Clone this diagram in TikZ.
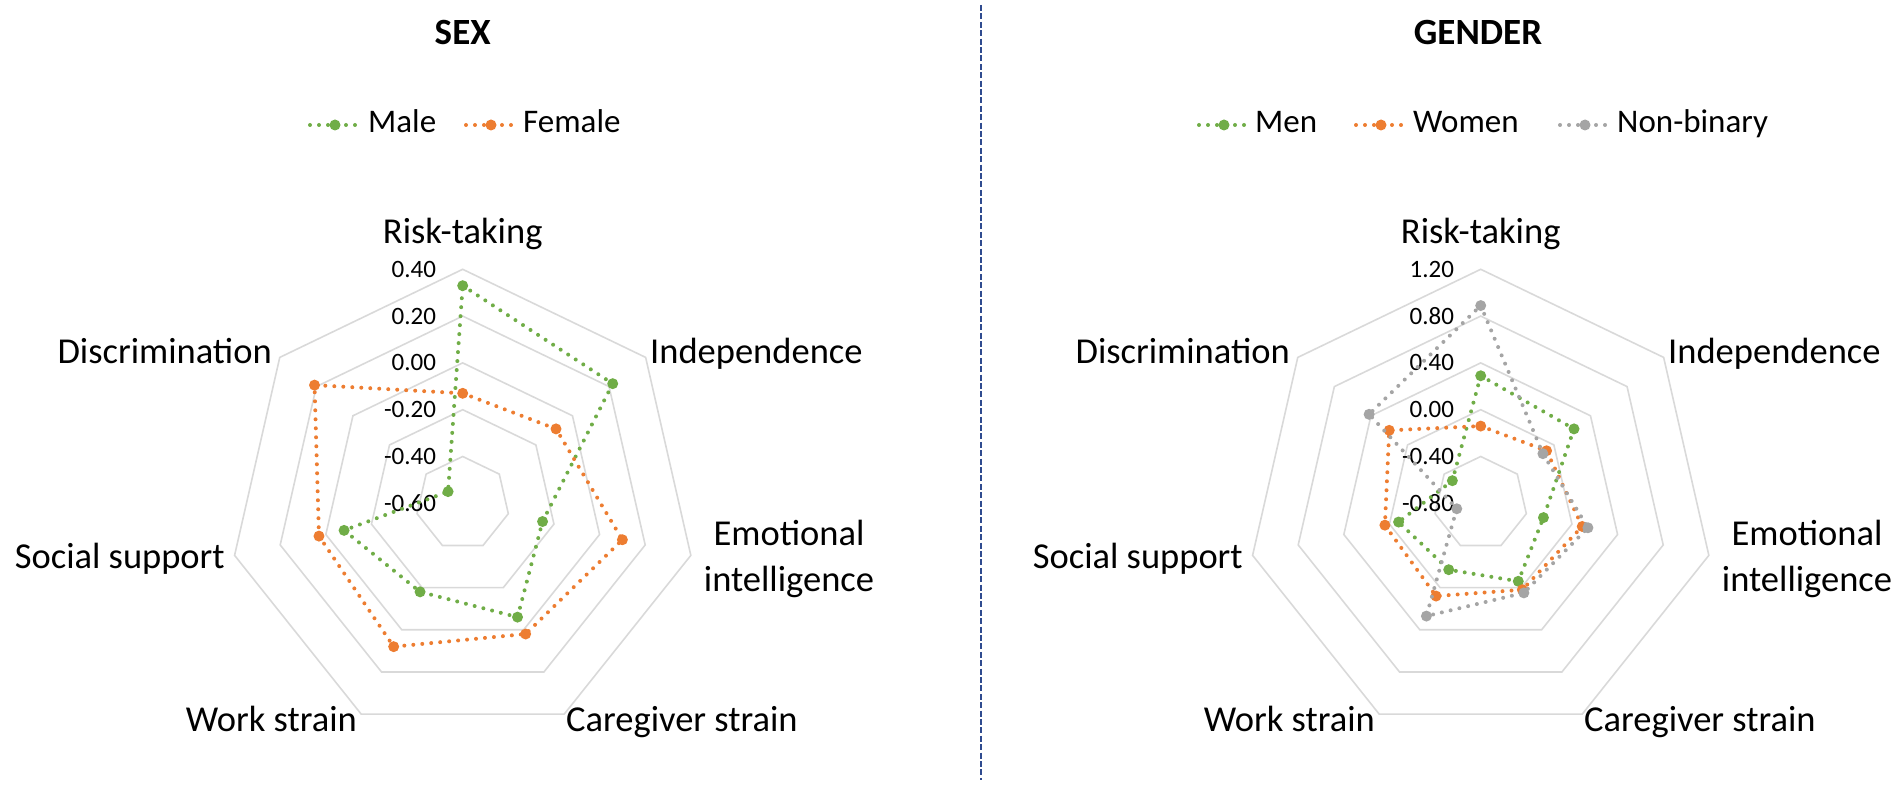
\documentclass[tikz,border=0pt]{standalone}
\usepackage{fontspec}
\setmainfont{Carlito}
\definecolor{mgreen}{HTML}{70AD47}
\definecolor{forange}{HTML}{ED7D31}
\definecolor{nbgray}{HTML}{A5A5A5}
\definecolor{gridgray}{HTML}{D9D9D9}
\definecolor{sepblue}{HTML}{2F4B8F}
\begin{document}
\begin{tikzpicture}
[x=1pt,y=1pt,
 ring/.style={draw=gridgray,line width=1.6pt},
 ser/.style={line width=4pt,dash pattern=on 0pt off 9pt,line cap=round,line join=round},
 dot/.style={circle,fill=#1,inner sep=0pt,minimum size=11pt},
 cat/.style={font=\fontsize{36.5}{46.7}\selectfont,inner sep=0pt},
 tk/.style={font=\fontsize{25}{30}\selectfont,inner sep=0pt,anchor=east},
 lg/.style={font=\fontsize{33}{40}\selectfont,inner sep=0pt,anchor=base west},
 ttl/.style={font=\fontsize{37}{40}\selectfont\bfseries,inner sep=0pt,anchor=base}]
\useasboundingbox (0,0) rectangle (1902,787);

% centres of the two radar charts
\coordinate (cL) at (462.7,283.7);
\coordinate (cR) at (1480.7,283.7);

% grid rings
\foreach \c in {cL,cR}
  \foreach \k in {1,...,5}
    \draw[ring] ([shift={(90:\k*46.8)}]\c)
      \foreach \j in {1,...,6} { -- ([shift={({90-\j*360/7}:\k*46.8)}]\c) } -- cycle;

% axis values
\foreach \t [count=\k from 0] in {-0.60,-0.40,-0.20,0.00,0.20,0.40}
  \node[tk] (tickL\k) at ([shift={(-26.5,\k*46.8)}]cL) {\t};
\foreach \t [count=\k from 0] in {-0.80,-0.40,0.00,0.40,0.80,1.20}
  \node[tk] (tickR\k) at ([shift={(-26.5,\k*46.8)}]cR) {\t};

% titles
\node[ttl] (sexT) at (462.7,742) {SEX};
\node[ttl] (genT) at (1478,742) {GENDER};

% category labels, left
\node[cat,anchor=base] (riskL) at (462.7,543.7) {Risk-taking};
\node[cat,anchor=base west] (indL) at (650,423.7) {Independence};
\node[cat,align=center] (emoL) at (789,228) {Emotional\\intelligence};
\node[cat,anchor=base west] (careL) at (566,55.3) {Caregiver strain};
\node[cat,anchor=base east] (workL) at (357,55.3) {Work strain};
\node[cat,anchor=base east] (socL) at (225,218.7) {Social support};
\node[cat,anchor=base east] (discL) at (272,423.7) {Discrimination};

% category labels, right
\node[cat,anchor=base] (riskR) at (1480.7,543.7) {Risk-taking};
\node[cat,anchor=base west] (indR) at (1668,423.7) {Independence};
\node[cat,align=center] (emoR) at (1807,228) {Emotional\\intelligence};
\node[cat,anchor=base west] (careR) at (1584,55.3) {Caregiver strain};
\node[cat,anchor=base east] (workR) at (1375,55.3) {Work strain};
\node[cat,anchor=base east] (socR) at (1243,218.7) {Social support};
\node[cat,anchor=base east] (discR) at (1290,423.7) {Discrimination};

% legends
\coordinate (maleKey) at (335,662);
\coordinate (femKey) at (491,662);
\coordinate (menKey) at (1224,662);
\coordinate (womKey) at (1381,662);
\coordinate (nbKey) at (1585,662);
\draw[ser,mgreen] ([xshift=-25]maleKey) -- ([xshift=25]maleKey);
\draw[ser,forange] ([xshift=-25]femKey) -- ([xshift=25]femKey);
\draw[ser,mgreen] ([xshift=-25]menKey) -- ([xshift=25]menKey);
\draw[ser,forange] ([xshift=-25]womKey) -- ([xshift=25]womKey);
\draw[ser,nbgray] ([xshift=-25]nbKey) -- ([xshift=25]nbKey);
\node[dot=mgreen] (maleKeyDot) at (maleKey) {};
\node[dot=forange] (femKeyDot) at (femKey) {};
\node[dot=mgreen] (menKeyDot) at (menKey) {};
\node[dot=forange] (womKeyDot) at (womKey) {};
\node[dot=nbgray] (nbKeyDot) at (nbKey) {};
\node[lg] (maleTxt) at (368,654) {Male};
\node[lg] (femTxt) at (523,654) {Female};
\node[lg] (menTxt) at (1255,654) {Men};
\node[lg] (womTxt) at (1413,654) {Women};
\node[lg] (nbTxt) at (1617,654) {Non-binary};

% separator
\draw[sepblue,line width=2pt,dash pattern=on 6pt off 2.4pt] (981,782) -- (981,7);

% left chart: -0.60 .. 0.40
\foreach \v [count=\i] in {0.33,0.22,-0.25,-0.06,-0.18,-0.08,-0.52}
  \coordinate (male\i) at ([shift={({90-(\i-1)*360/7}:{(\v+0.6)*234})}]cL);
\foreach \v [count=\i] in {-0.13,-0.09,0.10,0.02,0.08,0.03,0.21}
  \coordinate (fem\i) at ([shift={({90-(\i-1)*360/7}:{(\v+0.6)*234})}]cL);

\draw[ser,mgreen] (male1) -- (male2) -- (male3) -- (male4) -- (male5) -- (male6) -- (male7) -- cycle;
\foreach \i in {1,...,7} \node[dot=mgreen] (maleDot\i) at (male\i) {};
\draw[ser,forange] (fem1) -- (fem2) -- (fem3) -- (fem4) -- (fem5) -- (fem6) -- (fem7) -- cycle;
\foreach \i in {1,...,7} \node[dot=forange] (femDot\i) at (fem\i) {};

% right chart: -0.80 .. 1.20
\foreach \v [count=\i] in {0.29,0.22,-0.25,-0.06,-0.17,-0.08,-0.49}
  \coordinate (men\i) at ([shift={({90-(\i-1)*360/7}:{(\v+0.8)*117})}]cR);
\foreach \v [count=\i] in {-0.14,-0.08,0.09,0.02,0.08,0.04,0.20}
  \coordinate (wom\i) at ([shift={({90-(\i-1)*360/7}:{(\v+0.8)*117})}]cR);
\foreach \v [count=\i] in {0.89,-0.12,0.14,0.05,0.27,-0.59,0.42}
  \coordinate (nb\i) at ([shift={({90-(\i-1)*360/7}:{(\v+0.8)*117})}]cR);

\draw[ser,mgreen] (men1) -- (men2) -- (men3) -- (men4) -- (men5) -- (men6) -- (men7) -- cycle;
\foreach \i in {1,...,7} \node[dot=mgreen] (menDot\i) at (men\i) {};
\draw[ser,forange] (wom1) -- (wom2) -- (wom3) -- (wom4) -- (wom5) -- (wom6) -- (wom7) -- cycle;
\foreach \i in {1,...,7} \node[dot=forange] (womDot\i) at (wom\i) {};
\draw[ser,nbgray] (nb1) -- (nb2) -- (nb3) -- (nb4) -- (nb5) -- (nb6) -- (nb7) -- cycle;
\foreach \i in {1,...,7} \node[dot=nbgray] (nbDot\i) at (nb\i) {};
\end{tikzpicture}
\end{document}
